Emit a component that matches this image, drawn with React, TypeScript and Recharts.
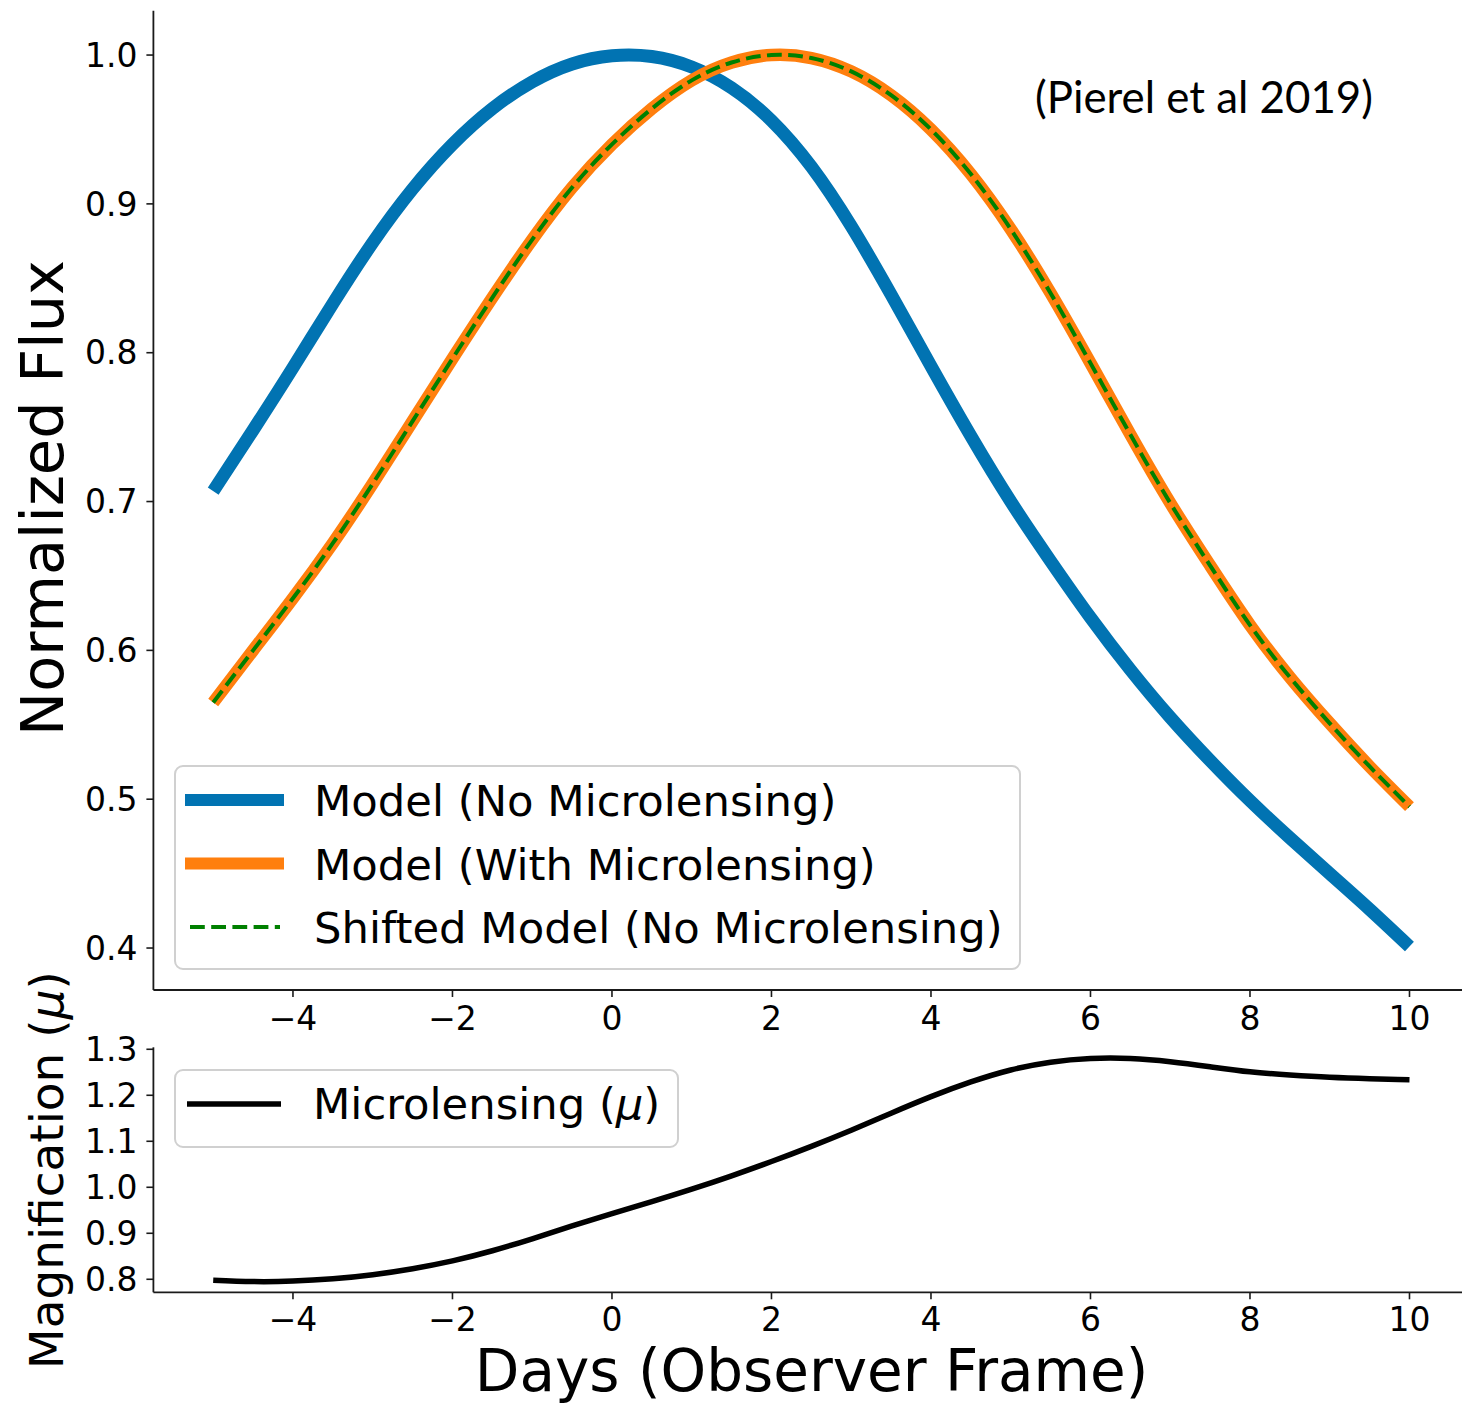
import React from 'react';
import { LineChart, Line, XAxis, YAxis, Legend } from 'recharts';

// ---------- data ----------
const days = [
  -5, -4.5, -4, -3.5, -3, -2.5, -2, -1.5, -1, -0.5, 0, 0.5, 1, 1.5, 2, 2.5,
  3, 3.5, 4, 4.5, 5, 5.5, 6, 6.5, 7, 7.5, 8, 8.5, 9, 9.5, 10,
];
const fluxNoMicrolensing = [
  0.707, 0.748, 0.790, 0.833, 0.874, 0.910, 0.940, 0.964, 0.982, 0.994, 0.9995,
  0.999, 0.992, 0.978, 0.956, 0.925, 0.885, 0.839, 0.791, 0.744, 0.700, 0.660,
  0.622, 0.587, 0.555, 0.526, 0.499, 0.474, 0.450, 0.426, 0.401,
];
const fluxWithMicrolensing = [
  0.565, 0.600, 0.635, 0.672, 0.712, 0.754, 0.796, 0.837, 0.876, 0.911, 0.940,
  0.964, 0.983, 0.995, 1.0, 0.998, 0.989, 0.973, 0.950, 0.920, 0.883, 0.840,
  0.793, 0.745, 0.699, 0.657, 0.617, 0.582, 0.551, 0.522, 0.495,
];
const fluxShiftedModel = [
  0.565, 0.600, 0.635, 0.672, 0.712, 0.754, 0.796, 0.837, 0.876, 0.911, 0.940,
  0.964, 0.983, 0.995, 1.0, 0.998, 0.989, 0.973, 0.950, 0.920, 0.883, 0.840,
  0.793, 0.745, 0.699, 0.657, 0.617, 0.582, 0.551, 0.522, 0.495,
];
const magnification = [
  0.798, 0.795, 0.796, 0.801, 0.810, 0.823, 0.840, 0.862, 0.888, 0.916, 0.943,
  0.969, 0.996, 1.025, 1.056, 1.089, 1.124, 1.161, 1.197, 1.229, 1.255, 1.272,
  1.280, 1.280, 1.273, 1.262, 1.251, 1.244, 1.239, 1.236, 1.234,
];
const xTicks = [-4, -2, 0, 2, 4, 6, 8, 10];
const fluxTicks = [0.4, 0.5, 0.6, 0.7, 0.8, 0.9, 1.0];
const magTicks = [0.8, 0.9, 1.0, 1.1, 1.2, 1.3];
const fluxLegendLabels = [
  'Model (No Microlensing)',
  'Model (With Microlensing)',
  'Shifted Model (No Microlensing)',
];
const magLegendLabel = 'Microlensing (';
const xLabel = 'Days (Observer Frame)';
const yLabelTop = 'Normalized Flux';
const yLabelBottom = 'Magnification (';
const annotation = '(Pierel et al 2019)';

const fluxData = days.map((d, i) => ({
  day: d,
  noMicro: fluxNoMicrolensing[i],
  withMicro: fluxWithMicrolensing[i],
  shifted: fluxShiftedModel[i],
}));
const magData = days.map((d, i) => ({ day: d, mu: magnification[i] }));

// ---------- styling ----------
const FONT = '"DejaVu Sans", sans-serif';
const BLUE = '#0173B2';
const ORANGE = '#FF7F0E';
const GREEN = '#008000';
const SPINE = '#1a1a1a';
const X_DOMAIN: [number, number] = [-5.75, 10.75];

const fmtX = (v: number) => String(v).replace('-', '\u2212');
const fmtY = (v: number) => v.toFixed(1);

const tickStyle = { fill: '#000', fontSize: 33, fontFamily: FONT };

const FluxLegend = () => (
  <svg width={848} height={206} style={{ display: 'block' }}>
    <rect x={1} y={1} width={845} height={203} rx={8} ry={8}
      fill="rgba(255,255,255,0.85)" stroke="#d0d0d0" strokeWidth={2} />
    <line x1={11} x2={110} y1={35} y2={35} stroke={BLUE} strokeWidth={12} />
    <line x1={11} x2={110} y1={98.5} y2={98.5} stroke={ORANGE} strokeWidth={12} />
    <line x1={16} x2={106} y1={162} y2={162} stroke={GREEN} strokeWidth={4}
      strokeDasharray="14.8 6.4" />
    {fluxLegendLabels.map((t, i) => (
      <text key={t} x={140} y={51 + i * 63.5} fontSize={43.3} fontFamily={FONT} fill="#000">
        {t}
      </text>
    ))}
  </svg>
);

const MagLegend = () => (
  <svg width={506} height={80} style={{ display: 'block' }}>
    <rect x={1} y={1} width={503} height={77} rx={8} ry={8}
      fill="rgba(255,255,255,0.85)" stroke="#d0d0d0" strokeWidth={2} />
    <line x1={13} x2={107} y1={35} y2={35} stroke="#000" strokeWidth={5.5} />
    <text x={139} y={50} fontSize={43.3} fontFamily={FONT} fill="#000">
      {magLegendLabel}
      <tspan fontStyle="italic">μ</tspan>)
    </text>
  </svg>
);

export default function App() {
  return (
    <div style={{ position: 'absolute', left: 0, top: 0, width: 1462, height: 1404, overflow: 'hidden', background: '#fff' }}>
      <div style={{ position: 'absolute', left: 0, top: 0 }}>
        <LineChart width={1480} height={1040} data={fluxData}
          margin={{ top: 10.7, right: 10.7, left: 0, bottom: 0 }}>
          <XAxis xAxisId="main" type="number" dataKey="day" domain={X_DOMAIN} ticks={xTicks}
            allowDataOverflow interval={0} height={50} tickSize={7} tickMargin={10}
            stroke={SPINE} axisLine={{ stroke: SPINE, strokeWidth: 1.8 }}
            tickLine={{ stroke: SPINE, strokeWidth: 1.6 }} tick={tickStyle} tickFormatter={fmtX} />
          <XAxis xAxisId="top" orientation="top" type="number" dataKey="day" domain={X_DOMAIN}
            allowDataOverflow height={0} tick={false} tickLine={false}
            axisLine={{ stroke: SPINE, strokeWidth: 1.8 }} />
          <YAxis type="number" domain={[0.3718, 1.0298]} ticks={fluxTicks} allowDataOverflow
            interval={0} width={153.4} tickSize={7} tickMargin={9}
            stroke={SPINE} axisLine={{ stroke: SPINE, strokeWidth: 1.8 }}
            tickLine={{ stroke: SPINE, strokeWidth: 1.6 }} tick={tickStyle} tickFormatter={fmtY} />
          <Line xAxisId="main" type="natural" dataKey="noMicro" stroke={BLUE} strokeWidth={13}
            dot={false} activeDot={false} isAnimationActive={false} />
          <Line xAxisId="main" type="natural" dataKey="withMicro" stroke={ORANGE} strokeWidth={12.5}
            dot={false} activeDot={false} isAnimationActive={false} />
          <Line xAxisId="main" type="natural" dataKey="shifted" stroke={GREEN} strokeWidth={4}
            strokeDasharray="14.8 6.4" dot={false} activeDot={false} isAnimationActive={false} />
          <Legend layout="vertical" align="center" verticalAlign="middle"
            content={() => <FluxLegend />}
            wrapperStyle={{ position: 'absolute', left: 174, top: 765, width: 848, height: 206 }} />
        </LineChart>
      </div>
      <div style={{ position: 'absolute', left: 0, top: 1025 }}>
        <LineChart width={1480} height={379} data={magData}
          margin={{ top: 22.3, right: 10.7, left: 0, bottom: 0 }}>
          <XAxis xAxisId="main" type="number" dataKey="day" domain={X_DOMAIN} ticks={xTicks}
            allowDataOverflow interval={0} height={111.7} tickSize={7} tickMargin={8}
            stroke={SPINE} axisLine={{ stroke: SPINE, strokeWidth: 1.8 }}
            tickLine={{ stroke: SPINE, strokeWidth: 1.6 }} tick={tickStyle} tickFormatter={fmtX} />
          <XAxis xAxisId="top" orientation="top" type="number" dataKey="day" domain={X_DOMAIN}
            allowDataOverflow height={0} tick={false} tickLine={false}
            axisLine={{ stroke: SPINE, strokeWidth: 1.8 }} />
          <YAxis type="number" domain={[0.7717, 1.3043]} ticks={magTicks} allowDataOverflow
            interval={0} width={153.4} tickSize={7} tickMargin={9}
            stroke={SPINE} axisLine={{ stroke: SPINE, strokeWidth: 1.8 }}
            tickLine={{ stroke: SPINE, strokeWidth: 1.6 }} tick={tickStyle} tickFormatter={fmtY} />
          <Line xAxisId="main" type="natural" dataKey="mu" stroke="#000" strokeWidth={5.5}
            dot={false} activeDot={false} isAnimationActive={false} />
          <Legend layout="vertical" align="center" verticalAlign="middle"
            content={() => <MagLegend />}
            wrapperStyle={{ position: 'absolute', left: 174, top: 44, width: 506, height: 80 }} />
        </LineChart>
      </div>
      <svg width={1462} height={1404} style={{ position: 'absolute', left: 0, top: 0, pointerEvents: 'none' }}>
        <text transform="translate(63.3,498) rotate(-90)" textAnchor="middle"
          fontSize={59} fontFamily={FONT} fill="#000">{yLabelTop}</text>
        <text transform="translate(63,1170) rotate(-90)" textAnchor="middle"
          fontSize={47} fontFamily={FONT} fill="#000">
          {yLabelBottom}<tspan fontStyle="italic">μ</tspan>)
        </text>
        <text x={811.6} y={1391} textAnchor="middle" fontSize={58} fontFamily={FONT} fill="#000">
          {xLabel}
        </text>
        <text x={1035} y={113} fontSize={44} fontFamily='Lato, "Open Sans", sans-serif' fill="#000"
          textLength={338} lengthAdjust="spacingAndGlyphs">
          {annotation}
        </text>
      </svg>
    </div>
  );
}
